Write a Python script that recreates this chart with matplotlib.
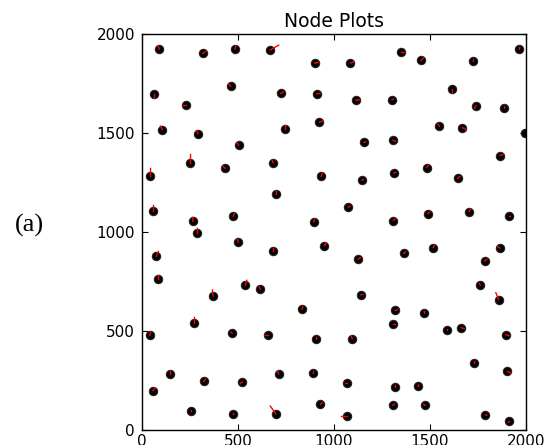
import matplotlib
matplotlib.use("Agg")
import matplotlib.pyplot as plt
import numpy as np

# node positions
node_x = [90, 316, 484, 667, 62, 462, 724, 231, 106, 292, 747, 503, 252, 42, 434, 684, 698, 57, 266, 476,
          899, 1085, 1347, 1453, 1722, 1965, 910, 1113, 1302, 1613, 1740, 1885, 924, 1549, 1668, 1995,
          1156, 1307, 1865, 934, 1146, 1312, 1483, 1644, 1075, 894, 1309, 1488, 1703, 1913,
          286, 75, 502, 684, 85, 538, 616, 370, 271, 40, 470, 658, 147, 57, 321, 522, 712, 257, 472, 698,
          950, 1125, 1363, 1517, 1863, 1785, 1762, 1858, 1141, 833, 1318, 1467, 1307, 1589, 1663, 1894,
          905, 1095, 1731, 1903, 892, 1066, 1316, 1439, 929, 1306, 1476, 1066, 1788, 1913]
node_y = [1924, 1902, 1924, 1919, 1697, 1736, 1700, 1643, 1517, 1497, 1522, 1439, 1350, 1283, 1322, 1350, 1190, 1108, 1054, 1081,
          1853, 1853, 1911, 1867, 1864, 1926, 1697, 1665, 1668, 1720, 1638, 1624, 1554, 1535, 1527, 1502,
          1453, 1463, 1386, 1281, 1261, 1298, 1325, 1271, 1125, 1052, 1057, 1092, 1103, 1081,
          995, 877, 949, 906, 761, 731, 712, 677, 540, 478, 488, 481, 283, 199, 246, 242, 283, 96, 82, 81,
          931, 862, 892, 921, 919, 854, 731, 658, 682, 609, 604, 589, 534, 507, 517, 481,
          458, 461, 337, 296, 286, 237, 219, 224, 130, 126, 125, 71, 77, 44]

# heading of each node (red segment), data units
head_dx = [-5, 15, 5, 45, 0, -12, 12, -15, -10, -8, 0, -10, 0, 0, -12, -5, 0, 0, -3, 5,
           18, 18, 18, 12, 0, 0, 18, 18, 8, 0, -8, 0, 18, -8, 18, 0,
           10, 12, 15, 5, 8, 10, 8, 12, 8, 5, 10, 10, 8, 5,
           0, 10, -5, 0, 0, 8, -5, -3, 0, 5, -8, -18, 0, 10, 10, -10, -5, 0, 0, -30,
           10, 12, 10, 5, -10, 12, -5, -15, 10, 5, 12, 0, 12, 0, 15, 18,
           0, -5, 0, 18, 0, -10, 0, 0, 10, 10, -10, -30, 8, -5]
head_dy = [15, 10, 15, 25, -15, 12, 8, 0, 18, 15, 20, 12, 45, 40, 10, 10, 15, 30, 20, 12,
           3, 6, 0, 12, 10, 10, 4, 3, 3, -12, -12, 10, 8, 10, -8, 0,
           3, -5, 5, 15, 3, 3, 12, 10, 5, 12, 10, 10, 12, 0,
           25, 25, 12, 15, 20, 25, 10, 30, 30, 15, 5, 0, 15, 12, 10, -8, 12, 5, 5, 40,
           15, 8, 8, 10, 8, 8, 10, 35, 3, 12, 3, 12, 0, 5, -5, -5,
           10, 15, 12, -8, 10, 0, 8, 10, 8, 5, 5, 0, -3, -5]

fig = plt.figure(figsize=(5.52, 4.45), dpi=100)
ax = fig.add_axes([0.2572, 0.0337, 0.6957, 0.8899])

ax.plot(node_x, node_y, 'o', color='black', markersize=6, markeredgecolor='#222222', markeredgewidth=0.8)
for x, y, dx, dy in zip(node_x, node_y, head_dx, head_dy):
    ax.plot([x, x + dx], [y, y + dy], color='red', linewidth=1)

ax.set_xlim(0, 2000)
ax.set_ylim(0, 2000)
ax.set_xticks([0, 500, 1000, 1500, 2000])
ax.set_yticks([0, 500, 1000, 1500, 2000])
ax.tick_params(direction='in', top=True, right=True, length=4, labelsize=11)
ax.tick_params(axis='x', pad=3)
ax.tick_params(axis='y', pad=5)
for s in ax.spines.values():
    s.set_linewidth(1.0)
ax.set_title("Node Plots", fontsize=13.5, pad=5)

fig.text(29 / 552, 1 - 225 / 445, "(a)", family="Liberation Serif", fontsize=19,
         ha='center', va='center')

fig.savefig("out.png", dpi=100)
